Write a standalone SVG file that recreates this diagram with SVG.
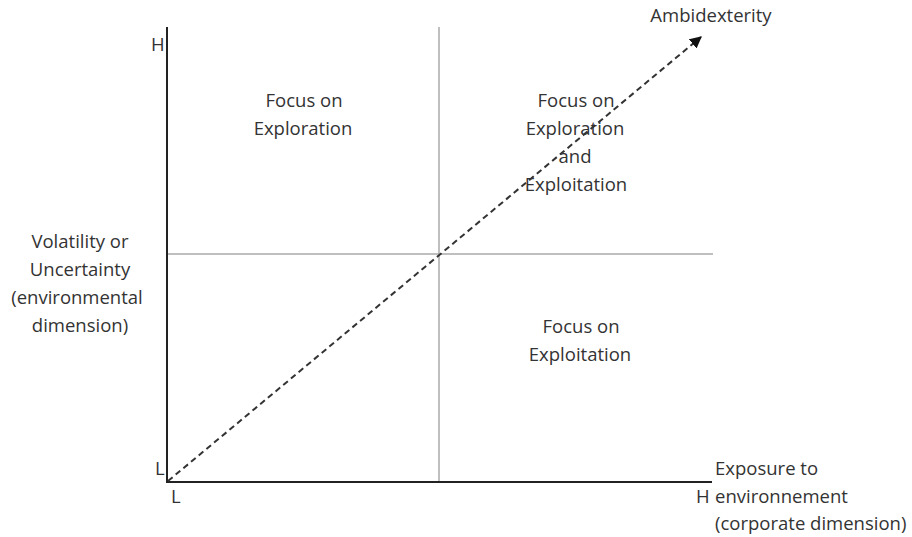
<svg xmlns="http://www.w3.org/2000/svg" width="912" height="537" viewBox="0 0 912 537">
<defs>
<style>
text{font-family:"Open Sans","Liberation Sans",sans-serif;font-size:18.5px;fill:#333}
.c{text-anchor:middle}
.axis{stroke:#222;stroke-width:2;fill:none}
.grid{stroke:#aaa;stroke-width:1.5;fill:none}
.arrow{stroke:#333;stroke-width:2;stroke-dasharray:6,4;fill:none}
</style>
<marker id="ah" viewBox="0 0 10 10" refX="9" refY="5" markerWidth="6" markerHeight="6" orient="auto" markerUnits="strokeWidth">
<path d="M0,0 L10,5 L0,10 Z" fill="#111"/>
</marker>
</defs>
<rect width="912" height="537" fill="#fff"/>
<g id="connectors">
<line class="grid" x1="439" y1="27" x2="439" y2="482"/>
<line class="grid" x1="167" y1="254" x2="713" y2="254"/>
<line class="axis" x1="167" y1="27" x2="167" y2="483"/>
<line class="axis" x1="166" y1="482" x2="712" y2="482"/>
<line class="arrow" x1="168" y1="481" x2="701" y2="37" marker-end="url(#ah)"/>
</g>
<g id="q-exploration">
<text class="c" x="304" y="107">Focus on</text>
<text class="c" x="303" y="135">Exploration</text>
</g>
<g id="q-both">
<text class="c" x="576" y="107">Focus on</text>
<text class="c" x="575" y="135">Exploration</text>
<text class="c" x="575" y="163">and</text>
<text class="c" x="576" y="191">Exploitation</text>
</g>
<g id="q-exploitation">
<text class="c" x="581" y="333">Focus on</text>
<text class="c" x="580" y="361">Exploitation</text>
</g>
<g id="y-label">
<text class="c" x="80" y="248">Volatility or</text>
<text class="c" x="80" y="276">Uncertainty</text>
<text class="c" x="77" y="304">(environmental</text>
<text class="c" x="80" y="332">dimension)</text>
</g>
<g id="x-label">
<text x="715" y="475">Exposure to</text>
<text x="715" y="503">environnement</text>
<text x="715" y="530">(corporate dimension)</text>
</g>
<g id="ambidexterity">
<text class="c" x="711" y="22">Ambidexterity</text>
</g>
<g id="ticks">
<text x="151" y="51">H</text>
<text x="155" y="475">L</text>
<text x="171" y="503">L</text>
<text x="696" y="503">H</text>
</g>
</svg>
